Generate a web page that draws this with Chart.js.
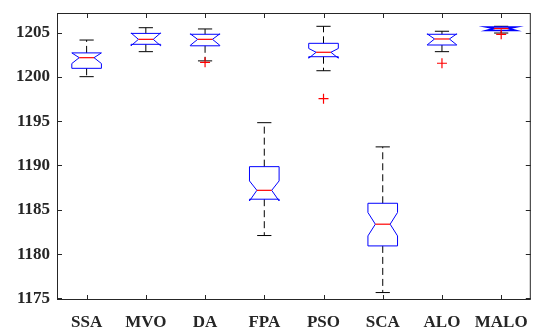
<!DOCTYPE html>
<html>
<head>
<meta charset="utf-8">
<title>Box plot</title>
<script src="https://cdn.jsdelivr.net/npm/chart.js@4/dist/chart.umd.min.js"></script>
<style>
  html, body { margin: 0; padding: 0; background: #fff; }
  #wrap { width: 537px; height: 334px; }
</style>
</head>
<body>
<div id="wrap"><canvas id="boxChart" width="537" height="334"></canvas></div>
<script>
// algorithms on the x axis
const algorithms = ['SSA', 'MVO', 'DA', 'FPA', 'PSO', 'SCA', 'ALO', 'MALO'];

// box statistics per algorithm
const whiskerHigh = [1204.15, 1205.54, 1205.40, 1194.83, 1205.70, 1192.10, 1205.14, 1205.70];
const upperQuartile = [1202.70, 1204.90, 1204.80, 1189.87, 1203.78, 1185.74, 1204.80, 1205.62];
const medians = [1202.16, 1204.23, 1204.23, 1187.20, 1202.77, 1183.38, 1204.27, 1205.45];
const lowerQuartile = [1200.96, 1203.67, 1203.50, 1186.20, 1202.27, 1180.93, 1203.59, 1205.22];
const whiskerLow = [1200.02, 1202.84, 1201.80, 1182.10, 1200.69, 1175.67, 1202.84, 1204.94];
const notchHigh = [1202.70, 1204.95, 1204.85, 1188.26, 1203.20, 1184.70, 1204.85, 1205.62];
const notchLow = [1201.50, 1203.50, 1203.55, 1186.00, 1202.10, 1182.06, 1203.60, 1205.22];
const outliers = [null, null, 1201.64, null, 1197.54, null, 1201.53, 1204.80];

const yTicks = [1175, 1180, 1185, 1190, 1195, 1200, 1205];
const yMin = 1174.83;
const yMax = 1207.2;

const boxPlugin = {
    id: 'boxPlugin',
    beforeDatasetsDraw(chart) {
        const ctx = chart.ctx;
        const x = chart.scales.x;
        const y = chart.scales.y;
        const step = x.getPixelForValue(1) - x.getPixelForValue(0);
        const half = step * 0.25;
        const notchHalf = half * 0.5;
        const capHalf = step * 0.12;
        ctx.save();
        algorithms.forEach((name, i) => {
            const cx = x.getPixelForValue(i);
            const pHi = y.getPixelForValue(whiskerHigh[i]);
            const pQ3 = y.getPixelForValue(upperQuartile[i]);
            const pMed = y.getPixelForValue(medians[i]);
            const pQ1 = y.getPixelForValue(lowerQuartile[i]);
            const pLo = y.getPixelForValue(whiskerLow[i]);
            const pNh = y.getPixelForValue(notchHigh[i]);
            const pNl = y.getPixelForValue(notchLow[i]);

            // dashed whiskers
            ctx.strokeStyle = '#000';
            ctx.lineWidth = 1;
            ctx.setLineDash([7, 4]);
            ctx.beginPath();
            ctx.moveTo(cx, pQ3);
            ctx.lineTo(cx, pHi);
            ctx.moveTo(cx, pQ1);
            ctx.lineTo(cx, pLo);
            ctx.stroke();
            ctx.setLineDash([]);

            // caps
            ctx.beginPath();
            ctx.moveTo(cx - capHalf, pHi);
            ctx.lineTo(cx + capHalf, pHi);
            ctx.moveTo(cx - capHalf, pLo);
            ctx.lineTo(cx + capHalf, pLo);
            ctx.stroke();

            // notched box
            ctx.strokeStyle = '#0000ff';
            ctx.lineWidth = pQ1 - pQ3 < 4 ? 1.6 : 1;
            ctx.beginPath();
            ctx.moveTo(cx - half, pQ3);
            ctx.lineTo(cx - half, pNh);
            ctx.lineTo(cx - notchHalf, pMed);
            ctx.lineTo(cx - half, pNl);
            ctx.lineTo(cx - half, pQ1);
            ctx.lineTo(cx + half, pQ1);
            ctx.lineTo(cx + half, pNl);
            ctx.lineTo(cx + notchHalf, pMed);
            ctx.lineTo(cx + half, pNh);
            ctx.lineTo(cx + half, pQ3);
            ctx.closePath();
            ctx.stroke();

            // median
            ctx.strokeStyle = '#ff0000';
            ctx.lineWidth = 1.2;
            ctx.beginPath();
            ctx.moveTo(cx - notchHalf, pMed);
            ctx.lineTo(cx + notchHalf, pMed);
            ctx.stroke();
        });
        ctx.restore();
    },
    afterDraw(chart) {
        const ctx = chart.ctx;
        const a = chart.chartArea;
        const x = chart.scales.x;
        const y = chart.scales.y;
        const tick = 5;
        ctx.save();
        ctx.strokeStyle = '#262626';
        ctx.lineWidth = 1;
        ctx.strokeRect(a.left + 0.5, a.top + 0.5, a.right - a.left - 1, a.bottom - a.top - 1);
        ctx.beginPath();
        algorithms.forEach((name, i) => {
            const px = Math.round(x.getPixelForValue(i)) + 0.5;
            ctx.moveTo(px, a.bottom);
            ctx.lineTo(px, a.bottom - tick);
            ctx.moveTo(px, a.top);
            ctx.lineTo(px, a.top + tick);
        });
        yTicks.forEach(v => {
            const py = Math.round(y.getPixelForValue(v)) + 0.5;
            ctx.moveTo(a.left, py);
            ctx.lineTo(a.left + tick, py);
            ctx.moveTo(a.right, py);
            ctx.lineTo(a.right - tick, py);
        });
        ctx.stroke();
        ctx.restore();
    }
};

const serif = "'Liberation Serif', 'Times New Roman', serif";

const ctx = document.getElementById('boxChart').getContext('2d');
const boxChart = new Chart(ctx, {
    type: 'line',
    data: {
        labels: algorithms,
        datasets: [{
            label: 'Outliers',
            data: outliers,
            showLine: false,
            pointStyle: 'cross',
            pointRadius: 5,
            pointBorderWidth: 1.2,
            pointBorderColor: '#ff0000',
            pointBackgroundColor: '#ff0000'
        }]
    },
    options: {
        responsive: false,
        animation: false,
        layout: { padding: { top: 13, right: 3, left: 0, bottom: 0 } },
        plugins: {
            legend: { display: false },
            tooltip: { enabled: false }
        },
        scales: {
            x: {
                type: 'category',
                offset: true,
                grid: { display: false, drawTicks: false },
                border: { display: false },
                ticks: {
                    color: '#262626',
                    font: { family: serif, size: 17, weight: 'bold' },
                    padding: 12,
                    maxRotation: 0,
                    autoSkip: false
                },
                afterFit(scale) {
                    scale.height = 34;
                    scale.paddingLeft = 0;
                    scale.paddingRight = 0;
                }
            },
            y: {
                min: yMin,
                max: yMax,
                grid: { display: false, drawTicks: false },
                border: { display: false },
                ticks: {
                    color: '#262626',
                    font: { family: serif, size: 17, weight: 'bold' },
                    padding: 7,
                    callback: value => String(value)
                },
                afterBuildTicks(scale) { scale.ticks = yTicks.map(v => ({ value: v })); },
                afterFit(scale) {
                    scale.width = 57;
                    scale.paddingTop = 0;
                    scale.paddingBottom = 0;
                }
            }
        }
    },
    plugins: [boxPlugin]
});
</script>
</body>
</html>
